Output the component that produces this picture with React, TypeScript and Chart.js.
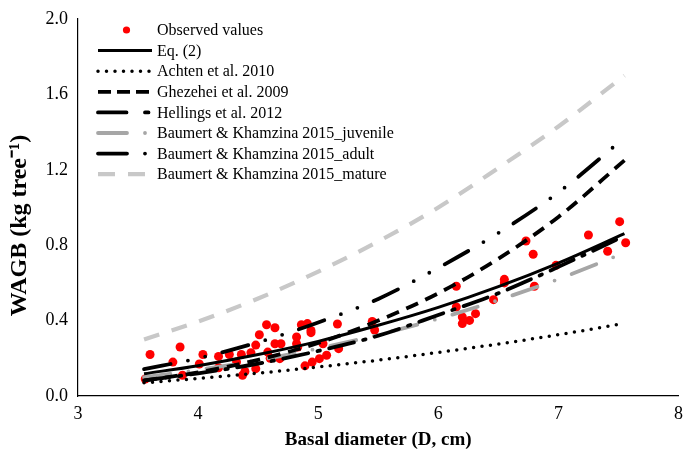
import React, { useEffect, useRef } from "react";
import { Chart, registerables } from "chart.js";

Chart.register(...registerables);

// ---- Data ----
const xTicks = [3, 4, 5, 6, 7, 8];
const yTicks = [0, 0.4, 0.8, 1.2, 1.6, 2.0];

const observedD = [
  3.56, 3.6, 3.79, 3.85, 3.87, 4.01, 4.04, 4.17, 4.17, 4.26, 4.32, 4.36, 4.37,
  4.39, 4.44, 4.48, 4.48, 4.51, 4.57, 4.58, 4.6, 4.64, 4.64, 4.68, 4.69, 4.82,
  4.82, 4.83, 4.86, 4.89, 4.91, 4.94, 4.94, 4.95, 5.01, 5.04, 5.07, 5.16, 5.17,
  5.45, 5.47, 6.15, 6.15, 6.2, 6.2, 6.26, 6.31, 6.46, 6.55, 6.55, 6.73, 6.79,
  6.8, 6.98, 7.25, 7.41, 7.51, 7.56,
];
const observedW = [
  0.09, 0.22, 0.18, 0.26, 0.11, 0.17, 0.22, 0.21, 0.15, 0.22, 0.18, 0.22, 0.11,
  0.13, 0.23, 0.27, 0.145, 0.325, 0.378, 0.233, 0.2, 0.362, 0.277, 0.198, 0.277,
  0.313, 0.277, 0.26, 0.378, 0.16, 0.384, 0.336, 0.348, 0.18, 0.198, 0.277,
  0.216, 0.382, 0.251, 0.395, 0.35, 0.582, 0.472, 0.419, 0.384, 0.401, 0.437,
  0.511, 0.619, 0.6, 0.822, 0.752, 0.582, 0.693, 0.854, 0.768, 0.925, 0.813,
];

const curveD = [3.55, 4, 4.5, 5, 5.5, 6, 6.5, 7, 7.55];
const eq2 = [0.118, 0.161, 0.22, 0.29, 0.375, 0.47, 0.58, 0.705, 0.861];
const achten = [0.07, 0.093, 0.121, 0.154, 0.19, 0.231, 0.276, 0.325, 0.385];
const ghezehei = [0.082, 0.125, 0.192, 0.281, 0.4, 0.545, 0.728, 0.95, 1.25];
const hellings = [0.083, 0.12, 0.172, 0.239, 0.32, 0.43, 0.545, 0.685, 0.85];
const juvenile = [0.1, 0.138, 0.19, 0.252, 0.325, 0.41, 0.509, 0.62, 0.76];
const adult = [0.143, 0.2, 0.285, 0.39, 0.515, 0.68, 0.865, 1.08, 1.37];
const mature = [0.3, 0.395, 0.517, 0.66, 0.82, 1.0, 1.21, 1.43, 1.7];

const labels = [
  "Observed values",
  "Eq. (2)",
  "Achten et al. 2010",
  "Ghezehei et al. 2009",
  "Hellings et al. 2012",
  "Baumert & Khamzina 2015_juvenile",
  "Baumert & Khamzina 2015_adult",
  "Baumert & Khamzina 2015_mature",
];

const xTitle = "Basal diameter (D, cm)";
const yTitle = "WAGB (kg tree\u207B\u00B9)";

const FONT = '"Liberation Serif", "Times New Roman", serif';

const pts = (xs: number[], ys: number[]) => xs.map((x, i) => ({ x, y: ys[i] }));

const lineDs = (
  label: string,
  ys: number[],
  color: string,
  width: number,
  dash: number[],
  cap: CanvasLineCap,
  legendDash?: number[]
) => ({
  label,
  data: pts(curveD, ys),
  showLine: true,
  borderColor: color,
  backgroundColor: color,
  borderWidth: width,
  borderDash: dash,
  borderCapStyle: cap,
  cubicInterpolationMode: "monotone",
  pointRadius: 0,
  pointHoverRadius: 0,
  order: 0,
  legendDash: legendDash || dash,
});

const insideLegend = {
  id: "insideLegend",
  afterDraw(chart: any) {
    const ctx: CanvasRenderingContext2D = chart.ctx;
    const x0 = 98;
    const len = 54;
    const textX = 157;
    const y0 = 30;
    const dy = 20.6;
    chart.data.datasets.forEach((ds: any, i: number) => {
      const y = y0 + i * dy;
      ctx.save();
      if (!ds.showLine) {
        ctx.fillStyle = ds.backgroundColor;
        ctx.beginPath();
        ctx.arc(x0 + 28.5, y, 3.6, 0, Math.PI * 2);
        ctx.fill();
      } else {
        ctx.strokeStyle = ds.borderColor;
        ctx.lineWidth = ds.borderWidth;
        ctx.lineCap = ds.borderCapStyle;
        ctx.setLineDash(ds.legendDash || []);
        ctx.beginPath();
        ctx.moveTo(x0, y);
        ctx.lineTo(x0 + len, y);
        ctx.stroke();
      }
      ctx.setLineDash([]);
      ctx.fillStyle = "#000";
      ctx.font = `16px ${FONT}`;
      ctx.textBaseline = "middle";
      ctx.textAlign = "left";
      ctx.fillText(ds.label, textX, y + 1);
      ctx.restore();
    });
  },
};

export default function App() {
  const ref = useRef<HTMLCanvasElement | null>(null);

  useEffect(() => {
    if (!ref.current) return;
    const chart = new Chart(ref.current, {
      type: "scatter",
      data: {
        datasets: [
          {
            label: labels[0],
            data: pts(observedD, observedW),
            backgroundColor: "#ff0000",
            borderColor: "#ff0000",
            borderWidth: 0,
            pointRadius: 4.5,
            pointHoverRadius: 4.5,
            showLine: false,
            order: 1,
          } as any,
          lineDs(labels[1], eq2, "#000000", 3, [], "butt"),
          lineDs(labels[2], achten, "#000000", 3.5, [0, 8.5], "round"),
          lineDs(labels[3], ghezehei, "#000000", 3.8, [13, 8], "butt", [13, 6]),
          lineDs(labels[4], hellings, "#000000", 3.8, [25.5, 9.5, 2.5, 9.5], "round", [28.5, 18.5, 3.5, 12]),
          lineDs(labels[5], juvenile, "#a6a6a6", 3.8, [26.5, 18.2, 0, 18.3], "round", [29, 18, 0, 20]),
          lineDs(labels[6], adult, "#000000", 3.8, [27, 17.7, 0, 17.7, 0, 17.6], "round", [29, 18, 0, 20]),
          lineDs(labels[7], mature, "#c8c8c8", 4.2, [16, 13], "butt", [17, 13]),
        ] as any,
      },
      options: {
        animation: false,
        responsive: true,
        maintainAspectRatio: false,
        layout: { padding: { left: 0, right: 3, top: 19, bottom: 0 } },
        plugins: {
          legend: { display: false },
          tooltip: { enabled: false },
        },
        scales: {
          x: {
            type: "linear",
            min: 3,
            max: 8,
            afterBuildTicks: (s: any) => {
              s.ticks = xTicks.map((v) => ({ value: v }));
            },
            afterFit: (s: any) => {
              s.height = 56;
              s.paddingLeft = 0;
              s.paddingRight = 0;
            },
            grid: { display: false, drawTicks: false },
            border: { display: true, color: "#000", width: 1.2 },
            ticks: {
              color: "#000",
              font: { family: FONT, size: 18 },
              padding: 7,
              maxRotation: 0,
              callback: (v: any) => String(v),
            },
            title: {
              display: true,
              text: xTitle,
              color: "#000",
              font: { family: FONT, size: 19, weight: "bold" },
              padding: { top: 0, bottom: 1 },
            },
          },
          y: {
            type: "linear",
            min: 0,
            max: 2,
            afterBuildTicks: (s: any) => {
              s.ticks = yTicks.map((v) => ({ value: v }));
            },
            afterFit: (s: any) => {
              s.width = 78;
              s.paddingTop = 0;
              s.paddingBottom = 0;
            },
            grid: { display: false, drawTicks: false },
            border: { display: true, color: "#000", width: 1.2 },
            ticks: {
              color: "#000",
              font: { family: FONT, size: 18 },
              padding: 10,
              callback: (v: any) => Number(v).toFixed(1),
            },
            title: {
              display: true,
              text: yTitle + "\u00A0\u00A0\u00A0\u00A0\u00A0\u00A0",
              color: "#000",
              font: { family: FONT, size: 24, weight: "bold" },
              padding: { top: 5, bottom: 0 },
            },
          },
        },
      },
      plugins: [insideLegend],
    });
    return () => chart.destroy();
  }, []);

  return (
    <div style={{ position: "absolute", left: 0, top: 0, width: 683, height: 452, background: "#fff" }}>
      <canvas ref={ref} />
    </div>
  );
}
